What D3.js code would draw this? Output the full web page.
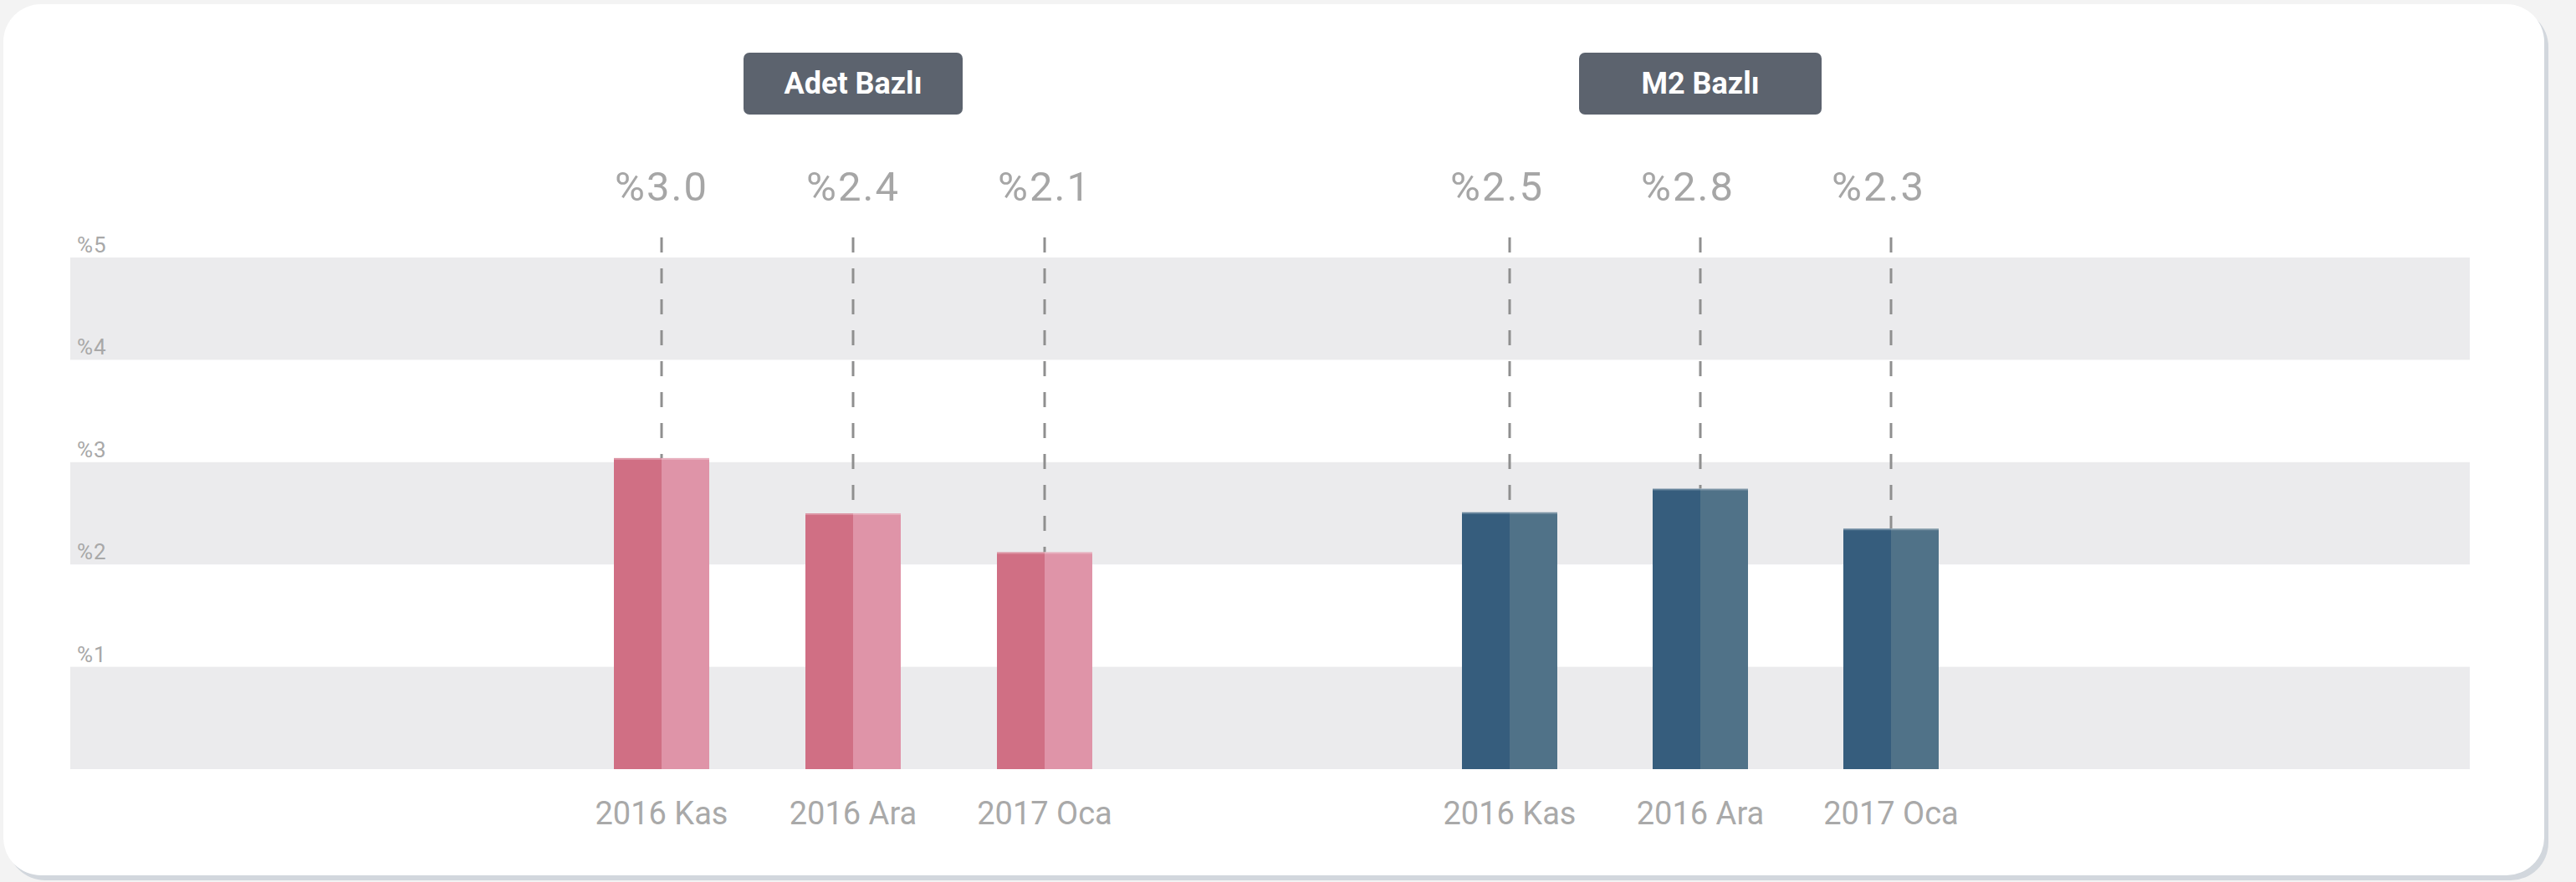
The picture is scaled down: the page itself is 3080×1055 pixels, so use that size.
<!DOCTYPE html>
<html>
<head>
<meta charset="utf-8">
<script src="https://cdn.jsdelivr.net/npm/d3@7"></script>
<style>
html,body{margin:0;padding:0;background:#f3f3f3;}
svg{display:block;}
text{font-family:Roboto,"Open Sans",sans-serif;}
</style>
</head>
<body>
<svg id="chart" width="3080" height="1055"></svg>
<script>
// ---- data ----
const categories = ["2016 Kas", "2016 Ara", "2017 Oca"];
const adetValues = [3.04, 2.50, 2.12];
const adetLabels = ["%3.0", "%2.4", "%2.1"];
const m2Values = [2.51, 2.74, 2.35];
const m2Labels = ["%2.5", "%2.8", "%2.3"];
const panelTitles = ["Adet Bazlı", "M2 Bazlı"];
const yTicks = [1, 2, 3, 4, 5];

// ---- layout / style ----
const W = 3080, H = 1055;
const svg = d3.select("#chart");
const y = d3.scaleLinear().domain([0, 5]).range([920, 308]);
const plotLeft = 84, plotRight = 2953;
const barW = 114;

const panels = [
  {title: panelTitles[0], values: adetValues, labels: adetLabels,
   range: [791, 1249], dark: "#d06f84", light: "#df94a8", btnW: 262, labelDx: 0},
  {title: panelTitles[1], values: m2Values, labels: m2Labels,
   range: [1805, 2261], dark: "#365d7d", light: "#507288", btnW: 290, labelDx: -15}
];

// card + shadow
svg.append("rect").attr("x", 9).attr("y", 11).attr("width", 3038).attr("height", 1042)
  .attr("rx", 45).attr("fill", "#d2d7dd");
svg.append("rect").attr("x", 4).attr("y", 5).attr("width", 3038).attr("height", 1042)
  .attr("rx", 45).attr("fill", "#ffffff");

// alternating bands
const bandStarts = [0, 2, 4];
svg.append("g").selectAll("rect").data(bandStarts).join("rect")
  .attr("x", plotLeft).attr("width", plotRight - plotLeft)
  .attr("y", d => y(d + 1)).attr("height", d => y(d) - y(d + 1))
  .attr("fill", "#ebebed");

// y tick labels
svg.append("g").selectAll("text").data(yTicks).join("text")
  .attr("x", 92).attr("y", d => y(d) - 6)
  .attr("font-size", 26).attr("letter-spacing", 1).attr("fill", "#a8a8a8")
  .text(d => "%" + d);

panels.forEach(p => {
  const x = d3.scalePoint().domain(categories).range(p.range);
  const g = svg.append("g");
  const rows = categories.map((c, i) => ({c, v: p.values[i], label: p.labels[i]}));

  // title button
  const cx = x(categories[1]);
  g.append("rect").attr("x", cx - p.btnW / 2).attr("y", 63)
    .attr("width", p.btnW).attr("height", 74).attr("rx", 7)
    .attr("fill", "#5c636e");
  g.append("text").attr("x", cx).attr("y", 100)
    .attr("text-anchor", "middle").attr("dominant-baseline", "central")
    .attr("font-size", 36).attr("font-weight", "bold").attr("fill", "#ffffff")
    .text(p.title);

  // dashed leaders
  g.selectAll("line.lead").data(rows).join("line").attr("class", "lead")
    .attr("x1", d => x(d.c)).attr("x2", d => x(d.c))
    .attr("y1", 284).attr("y2", d => y(d.v))
    .attr("stroke", "#8f8f8f").attr("stroke-width", 3)
    .attr("stroke-dasharray", "18,19");

  // bars: dark left half, light right half
  g.selectAll("rect.dk").data(rows).join("rect").attr("class", "dk")
    .attr("x", d => x(d.c) - barW / 2).attr("width", barW / 2)
    .attr("y", d => y(d.v)).attr("height", d => y(0) - y(d.v))
    .attr("fill", p.dark);
  g.selectAll("rect.lt").data(rows).join("rect").attr("class", "lt")
    .attr("x", d => x(d.c)).attr("width", barW / 2)
    .attr("y", d => y(d.v)).attr("height", d => y(0) - y(d.v))
    .attr("fill", p.light);
  g.selectAll("line.top").data(rows).join("line").attr("class", "top")
    .attr("x1", d => x(d.c) - barW / 2).attr("x2", d => x(d.c) + barW / 2)
    .attr("y1", d => y(d.v) + 1).attr("y2", d => y(d.v) + 1)
    .attr("stroke", "#ffffff").attr("stroke-opacity", 0.25).attr("stroke-width", 2);

  // value labels
  g.selectAll("text.val").data(rows).join("text").attr("class", "val")
    .attr("x", d => x(d.c) + p.labelDx).attr("y", 240)
    .attr("text-anchor", "middle").attr("font-size", 49).attr("letter-spacing", 2)
    .attr("fill", "#a6a6a6")
    .text(d => d.label);

  // category labels
  g.selectAll("text.cat").data(rows).join("text").attr("class", "cat")
    .attr("x", d => x(d.c)).attr("y", 986)
    .attr("text-anchor", "middle").attr("font-size", 38).attr("fill", "#a9a9a9")
    .text(d => d.c);
});
</script>
</body>
</html>
